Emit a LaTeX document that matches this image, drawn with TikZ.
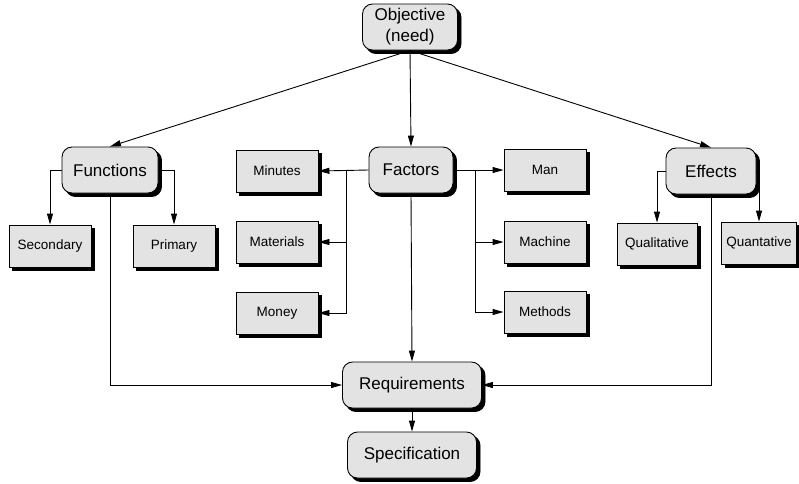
\documentclass[tikz,border=0pt]{standalone}
\usepackage{fontspec}
\setmainfont{Liberation Sans}
\usetikzlibrary{arrows.meta,shadows,calc}
\definecolor{boxfill}{HTML}{E3E3E3}
\tikzset{
  base/.style={draw=black, line width=0.9pt, fill=boxfill, inner sep=0pt,
    general shadow={shadow xshift=3.5pt, shadow yshift=-3.5pt, fill=black, draw=black, line width=0.9pt}},
  mainbox/.style={base, rounded corners=10pt, minimum height=46pt,
    font=\fontsize{17}{21}\selectfont, align=center},
  leafbox/.style={base, minimum width=82pt, minimum height=42pt,
    font=\fontsize{13.5}{16}\selectfont},
  arr/.style={draw=black, line width=0.9pt, -{Triangle[length=11pt,width=6pt]}},
  ln/.style={draw=black, line width=0.9pt}
}
\begin{document}
\begin{tikzpicture}[x=1pt,y=-1pt]
\useasboundingbox (0,0) rectangle (799,483);
% main nodes
\node[mainbox, minimum width=95pt] (obj) at (410,27) {Objective\\(need)};
\node[mainbox, minimum width=96pt] (fun) at (110,170) {Functions};
\node[mainbox, minimum width=84pt] (fac) at (411,170) {Factors};
\node[mainbox, minimum width=90pt] (eff) at (711,171) {Effects};
\node[mainbox, minimum width=139pt] (req) at (412,385) {Requirements};
\node[mainbox, minimum width=129pt] (spec) at (412,455) {Specification};
% leaves
\node[leafbox] (sec) at (50,246) {Secondary};
\node[leafbox] (pri) at (174,246) {Primary};
\node[leafbox] (min) at (277,171) {Minutes};
\node[leafbox] (mat) at (277,242) {Materials};
\node[leafbox] (mon) at (277,313) {Money};
\node[leafbox] (man) at (545,170) {Man};
\node[leafbox] (mac) at (545,242) {Machine};
\node[leafbox] (met) at (545,312) {Methods};
\node[leafbox, minimum width=80pt] (qual) at (657,244) {Qualitative};
\node[leafbox, minimum width=75pt] (quan) at (759,243) {Quantative};
% objective fan-out
\draw[arr] (obj.south) -- (fun.north);
\draw[arr] (obj.south) -- (fac.north);
\draw[arr] (obj.south) -- (eff.north);
% functions
\draw[arr] (fun.west) -| (sec.north);
\draw[arr] (fun.east) -| (pri.north);
\draw[arr] (fun.south) |- (req.west);
% factors
\path (fac.west) ++(-22,0) coordinate (jl);
\path (fac.east) ++(22,0) coordinate (jr);
\draw[arr] (fac.west) -- (min.east);
\draw[arr] (jl) |- (mat.east);
\draw[arr] (jl) |- (mon.east);
\draw[arr] (fac.east) -- (man.west);
\draw[arr] (jr) |- (mac.west);
\draw[arr] (jr) |- (met.west);
\draw[arr] (fac.south) -- (req.north);
% effects
\draw[arr] (eff.west) -| (qual.north);
\draw[arr] (eff.east) -| (quan.north);
\draw[arr] (eff.south) |- (req.east);
% requirements
\draw[arr] (req.south) -- (spec.north);
\end{tikzpicture}
\end{document}
